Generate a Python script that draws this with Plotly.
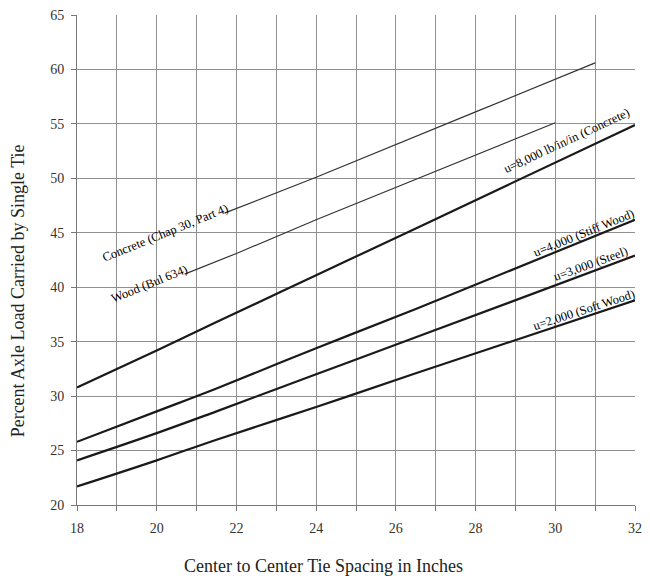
import plotly.graph_objects as go

# Data
conc_x = [21.7, 24, 28, 31]
conc_y = [46.8, 50.1, 56.1, 60.6]
wood_x = [20.7, 22, 24, 26.5, 30]
wood_y = [41.2, 43.1, 46.2, 49.9, 55.1]

u_x = [18, 20, 21.5, 24, 26.5, 32]
u8000_y = [30.8, 34.2, 36.8, 41.1, 45.4, 54.9]
u4000_y = [25.8, 28.6, 30.7, 34.4, 38.0, 46.2]
u3000_y = [24.1, 26.6, 28.6, 32.0, 35.4, 42.9]
u2000_y = [21.7, 24.1, 26.0, 29.0, 32.1, 38.8]

x_ticks = list(range(18, 33))
x_ticktext = [str(v) if v % 2 == 0 else "" for v in x_ticks]
y_ticks = list(range(20, 66, 5))

labels = [
    ("Concrete (Chap 30, Part 4)", 20.21, 45.0, -22),
    ("Wood (Bul 634)", 19.81, 40.26, -22),
    ("u=8,000 lb/in/in (Concrete)", 30.27, 53.46, -25),
    ("u=4,000 (Stiff Wood)", 30.72, 45.02, -22),
    ("u=3,000 (Steel)", 30.89, 42.09, -20),
    ("u=2,000 (Soft Wood)", 30.72, 37.87, -18),
]

FONT = "Liberation Serif, Times New Roman, serif"

fig = go.Figure()
fig.add_trace(go.Scatter(x=conc_x, y=conc_y, mode="lines",
                         line=dict(color="#333333", width=1.2), showlegend=False))
fig.add_trace(go.Scatter(x=wood_x, y=wood_y, mode="lines",
                         line=dict(color="#333333", width=1.2), showlegend=False))
for ys in [u8000_y, u4000_y, u3000_y, u2000_y]:
    fig.add_trace(go.Scatter(x=u_x, y=ys, mode="lines", line_shape="spline",
                             line=dict(color="#1a1a1a", width=2.2), showlegend=False))

annotations = []
for text, lx, ly, ang in labels:
    annotations.append(dict(x=lx, y=ly, xref="x", yref="y", text=text, showarrow=False,
                            textangle=ang, xanchor="center", yanchor="middle",
                            font=dict(family=FONT, size=12.5, color="#000000")))
annotations.append(dict(x=0.4425, y=0, xref="paper", yref="paper",
                        text="Center to Center Tie Spacing in Inches", showarrow=False,
                        xanchor="center", yanchor="middle", yshift=-61,
                        font=dict(family=FONT, size=18, color="#222222")))
annotations.append(dict(x=0, y=0.436, xref="paper", yref="paper",
                        text="Percent Axle Load Carried by Single Tie", showarrow=False,
                        textangle=-90, xanchor="center", yanchor="middle", xshift=-59,
                        font=dict(family=FONT, size=18, color="#222222")))

fig.update_layout(
    width=650, height=581,
    margin=dict(l=77, r=8, t=14, b=76),
    paper_bgcolor="white", plot_bgcolor="white",
    annotations=annotations,
    xaxis=dict(range=[18, 32], tickvals=x_ticks, ticktext=x_ticktext,
               showgrid=True, gridcolor="#8f8f8f", gridwidth=1,
               showline=True, linecolor="#777777", linewidth=1, mirror=False,
               ticks="outside", ticklen=5, tickcolor="#777777",
               ticklabelstandoff=5,
               tickfont=dict(family=FONT, size=14, color="#333333"),
               zeroline=False),
    yaxis=dict(range=[20, 65], tickvals=y_ticks,
               showgrid=True, gridcolor="#8f8f8f", gridwidth=1,
               showline=True, linecolor="#777777", linewidth=1,
               ticks="outside", ticklen=5, tickcolor="#777777",
               ticklabelstandoff=4,
               tickfont=dict(family=FONT, size=14, color="#333333"),
               zeroline=False),
)

fig.write_html("out.html")
